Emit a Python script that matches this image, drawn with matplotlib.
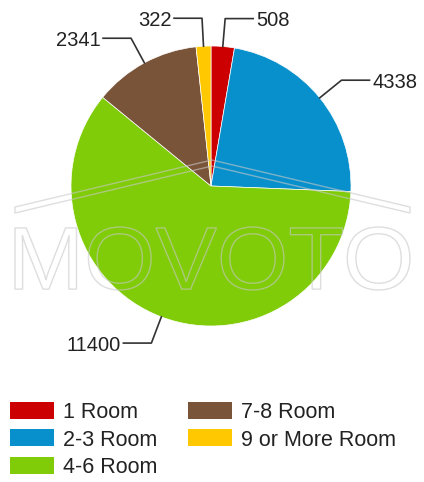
import numpy as np
import matplotlib.pyplot as plt
from matplotlib.patches import Rectangle, PathPatch, Polygon
from matplotlib.textpath import TextPath
from matplotlib.path import Path
from matplotlib.font_manager import FontProperties

plt.rcParams['font.family'] = ['Liberation Sans', 'DejaVu Sans']

labels = ['1 Room', '2-3 Room', '4-6 Room', '7-8 Room', '9 or More Room']
counts = [508, 4338, 11400, 2341, 322]
colors = ['#cc0000', '#0890cc', '#80cc08', '#7a5439', '#ffc800']

W, H = 424, 482
cx, cy, R = 211, 186, 140   # pie centre and radius in pixels

def px(x, y):
    # pixel position -> data units (pie centred at 0, radius 1)
    return (x - cx) / R, (cy - y) / R

fig = plt.figure(figsize=(W / 100, H / 100), dpi=100)
ax = fig.add_axes([0, 0, 1, 1])

wedges, _ = ax.pie(counts, colors=colors, startangle=90, counterclock=False,
                   radius=1, wedgeprops=dict(edgecolor='white', linewidth=0.5))
ax.set_aspect('auto')
ax.set_xlim(-cx / R, (W - cx) / R)
ax.set_ylim(-(H - cy) / R, cy / R)
ax.axis('off')

# movoto watermark: roof outline + outlined lettering
roof = [px(15, 207), px(212, 160), px(410, 207), px(410, 213), px(212, 166), px(15, 213)]
ax.add_patch(Polygon(roof, closed=True, facecolor='none', edgecolor='#c8c8c8',
                     lw=1.0, alpha=0.6, joinstyle='round', zorder=3))
tp = TextPath((0, 0), 'MOVOTO', size=1, prop=FontProperties(family='Liberation Sans'))
ext = tp.get_extents()
x0, y0 = px(15, 290)
x1, y1 = px(410, 227)
sx = (x1 - x0) / ext.width
sy = (y1 - y0) / ext.height
verts = tp.vertices.copy()
verts[:, 0] = x0 + (verts[:, 0] - ext.x0) * sx
verts[:, 1] = y0 + (verts[:, 1] - ext.y0) * sy
ax.add_patch(PathPatch(Path(verts, tp.codes), facecolor='none', edgecolor='#c8c8c8',
                       lw=1.0, alpha=0.6, zorder=3))

# value labels with elbow leader lines
for w, n in zip(wedges, counts):
    ang = np.deg2rad((w.theta1 + w.theta2) / 2)
    c, s = np.cos(ang), np.sin(ang)
    side = 1 if c >= 0 else -1
    ex, ey = 1.2 * c, 1.2 * s
    hx = ex + 0.2 * side
    ax.plot([c, ex, hx], [s, ey, ey], color='#333333', lw=1.2, zorder=4)
    ax.text(hx + 0.02 * side, ey, str(n), ha='left' if side > 0 else 'right',
            va='center_baseline', fontsize=14.5, color='#222222')

# legend
for i, (lab, col) in enumerate(zip(labels, colors)):
    row, colm = i % 3, i // 3
    lx = 10 + colm * 178
    ly = 410 + row * 27.5
    bx, by = px(lx, ly + 8.5)
    ax.add_patch(Rectangle((bx, by), 44 / R, 17 / R, facecolor=col, edgecolor='none'))
    tx, ty = px(lx + 53, ly)
    ax.text(tx, ty, lab, ha='left', va='center_baseline', fontsize=15.5, color='#222222')

plt.savefig('out.png', dpi=100)
